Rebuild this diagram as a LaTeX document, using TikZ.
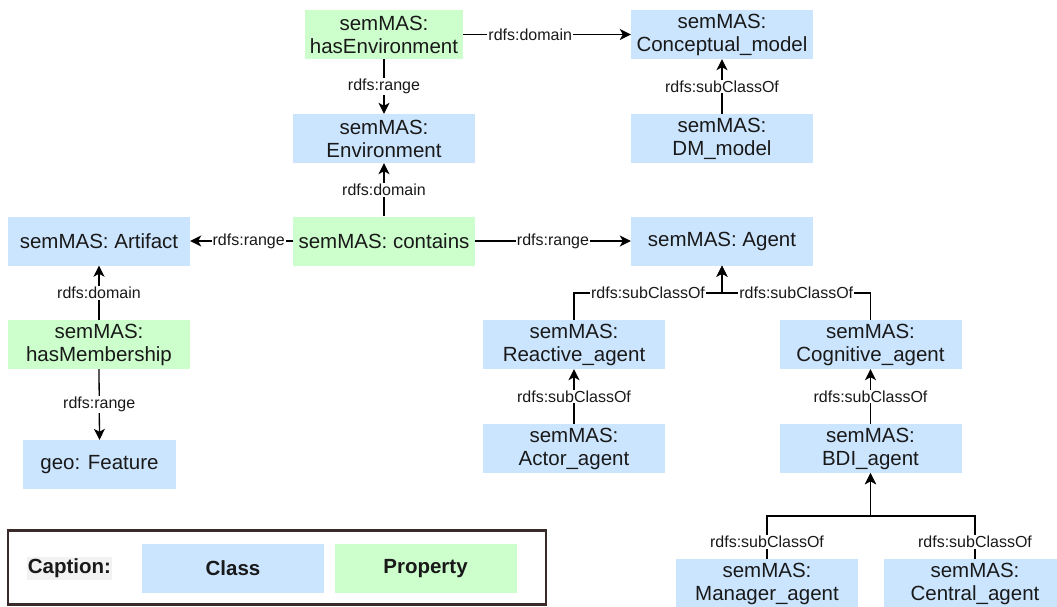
\documentclass[tikz,border=0pt]{standalone}
\usepackage{fontspec}
\setmainfont{Liberation Sans}
\usetikzlibrary{arrows.meta,calc}
\definecolor{clsblue}{HTML}{CCE5FF}
\definecolor{propgreen}{HTML}{CCFFCC}
\definecolor{framecol}{HTML}{3B2A2A}
\tikzset{
 box/.style={inner sep=0pt, align=center, font=\fontsize{20.5}{23}\selectfont, text=black!90},
 cls/.style={box, fill=clsblue, minimum width=182pt, minimum height=49pt},
 prop/.style={box, fill=propgreen, minimum width=182pt, minimum height=49pt},
 capfont/.style={font=\bfseries\fontsize{20.5}{23}\selectfont},
 lbl/.style={fill=white, inner sep=1pt, font=\fontsize{16}{18}\selectfont, text=black!90},
 arr/.style={line width=1.3pt, -{Stealth[length=11pt,width=11pt,inset=3pt]}},
}
\begin{document}
\begin{tikzpicture}[x=1pt,y=-1pt]
\useasboundingbox (0,0) rectangle (1057,606);
\clip (0,0) rectangle (1057,606);
% nodes
\node[prop, minimum width=158pt] (hasenv) at (384,34.5) {semMAS:\\hasEnvironment};
\node[cls] (cm) at (722,34.5) {semMAS:\\Conceptual\_model};
\node[cls] (env) at (384,138.5) {semMAS:\\Environment};
\node[cls] (dm) at (722,138.5) {semMAS:\\DM\_model};
\node[cls] (art) at (99,241) {semMAS: Artifact};
\node[prop] (cont) at (384,241) {semMAS: contains};
\node[cls] (agent) at (722,241) {semMAS: Agent};
\node[prop] (memb) at (99,344.5) {semMAS:\\hasMembership};
\node[cls, minimum width=153pt] (feat) at (99.5,464.5) {geo: Feature};
\node[cls] (react) at (574,344.5) {semMAS:\\Reactive\_agent};
\node[cls] (cog) at (870.5,344.5) {semMAS:\\Cognitive\_agent};
\node[cls] (actor) at (574,448.5) {semMAS:\\Actor\_agent};
\node[cls] (bdi) at (870.5,448.5) {semMAS:\\BDI\_agent};
\node[cls] (man) at (767,583.5) {semMAS:\\Manager\_agent};
\node[cls] (cen) at (975,583.5) {semMAS:\\Central\_agent};
% connectors
\draw[arr] (hasenv.east) -- node[lbl,pos=0.4]{rdfs:domain} (cm.west);
\draw[arr] (hasenv.south) -- node[lbl]{rdfs:range} (env.north);
\draw[arr] (dm.north) -- node[lbl]{rdfs:subClassOf} (cm.south);
\draw[arr] (cont.north) -- node[lbl]{rdfs:domain} (env.south);
\draw[arr] (cont.west) -- node[lbl,pos=0.43]{rdfs:range} (art.east);
\draw[arr] (cont.east) -- node[lbl]{rdfs:range} (agent.west);
\draw[arr] (memb.north) -- node[lbl]{rdfs:domain} (art.south);
\draw[arr] (memb.south) -- node[lbl]{rdfs:range} (feat.north);
\coordinate (j1) at (722,293);
\draw[arr] (react.north) |- node[lbl,pos=0.75]{rdfs:subClassOf} (j1) -- (agent.south);
\draw[arr] (cog.north) |- node[lbl,pos=0.75]{rdfs:subClassOf} (j1) -- (agent.south);
\draw[arr] (actor.north) -- node[lbl]{rdfs:subClassOf} (react.south);
\draw[arr] (bdi.north) -- node[lbl]{rdfs:subClassOf} (cog.south);
\coordinate (j2) at (870.5,516);
\draw[arr] (man.north) |- node[lbl,pos=0.2]{rdfs:subClassOf} (j2) -- (bdi.south);
\draw[arr] (cen.north) |- node[lbl,pos=0.2]{rdfs:subClassOf} (j2) -- (bdi.south);
% caption
\node[draw=framecol, line width=2.2pt, minimum width=538pt, minimum height=74pt, inner sep=0pt] (frame) at (277,567.5) {};
\node[fill=black!5, inner sep=0pt, minimum width=85pt, minimum height=23pt, capfont, text=black!90] (captxt) at (69.5,568.5) {Caption:};
\node[cls, capfont] (capcls) at (233,568.5) {Class};
\node[prop, capfont] (capprop) at (425.5,568.5) {Property};
\end{tikzpicture}
\end{document}
